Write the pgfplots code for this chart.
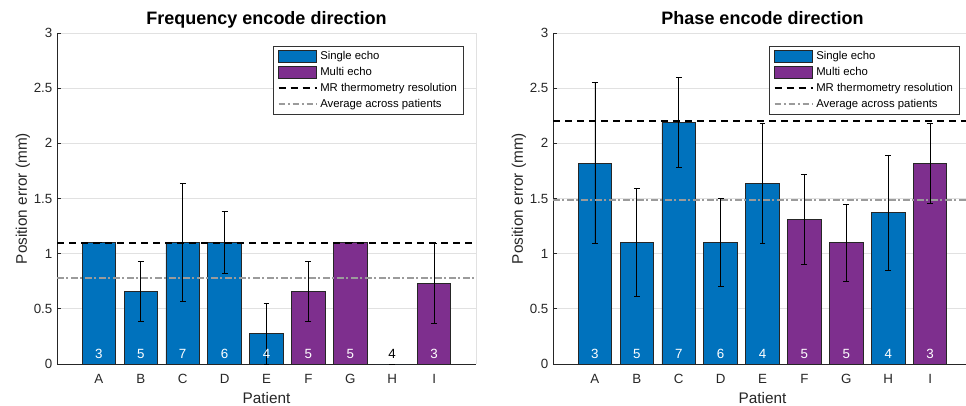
\documentclass[border=0pt]{standalone}
\usepackage{pgfplots}
\pgfplotsset{compat=1.18}
\usepackage{pgfplotstable}
\usepackage{fontspec}
\setmainfont{Liberation Sans}
\definecolor{mblue}{RGB}{0,114,189}
\definecolor{mpurple}{RGB}{126,47,142}
\definecolor{mgrid}{RGB}{225,225,225}
\definecolor{mavg}{RGB}{155,155,155}

% Frequency encode direction
\pgfplotstableread{
x y e
1 1.10 0.00
2 0.66 0.27
3 1.10 0.535
4 1.10 0.28
5 0.275 0.275
8 0.00 0.00
}\freqsingle
\pgfplotstableread{
x y e
6 0.66 0.27
7 1.10 0.00
9 0.73 0.365
}\freqmulti
\pgfplotstableread{
x y n
1 0.09 3
2 0.09 5
3 0.09 7
4 0.09 6
5 0.09 4
6 0.09 5
7 0.09 5
9 0.09 3
}\freqcountw
\pgfplotstableread{
x y n
8 0.09 4
}\freqcountb

% Phase encode direction
\pgfplotstableread{
x y e
1 1.82 0.73
2 1.10 0.49
3 2.19 0.41
4 1.10 0.40
5 1.64 0.545
8 1.37 0.525
}\phasesingle
\pgfplotstableread{
x y e
6 1.31 0.41
7 1.10 0.35
9 1.82 0.365
}\phasemulti
\pgfplotstableread{
x y n
1 0.09 3
2 0.09 5
3 0.09 7
4 0.09 6
5 0.09 4
6 0.09 5
7 0.09 5
8 0.09 4
9 0.09 3
}\phasecount

\pgfplotsset{
  myaxis/.style={
    scale only axis, width=314.25pt, height=248.25pt,
    xmin=0, xmax=10, ymin=0, ymax=3,
    xtick={1,...,9}, xticklabels={A,B,C,D,E,F,G,H,I},
    ytick={0,0.5,1,1.5,2,2.5,3},
    yticklabels={0,0.5,1,1.5,2,2.5,3},
    axis lines*=left,
    axis line style={black!85, line width=0.6pt},
    ymajorgrids, grid style={mgrid, line width=0.6pt},
    xtick style={draw=none},
    ytick style={black!85, line width=0.6pt},
    major tick length=3pt, tick align=inside,
    tick label style={font=\fontsize{10}{12}\selectfont, text=black!85},
    xticklabel style={yshift=-4pt},
    /pgf/number format/assume math mode=true,
    xlabel={Patient}, ylabel={Position error (mm)},
    label style={font=\fontsize{11.5}{13}\selectfont, text=black!85},
    xlabel style={yshift=0.5pt},
    ylabel style={yshift=-4pt},
    title style={font=\fontsize{13.5}{15}\selectfont\bfseries, text depth=3pt, yshift=-6pt},
    legend style={at={(1,1)}, anchor=north east, xshift=-9pt, yshift=-9.75pt,
      font=\fontsize{8.5}{10}\selectfont, draw=black!80, line width=0.6pt,
      inner xsep=3pt, inner ysep=2pt, row sep=0.2pt,
      /tikz/every even column/.append style={column sep=2pt}},
    legend cell align=left,
    clip=false,
  },
  barsingle/.style={
    legend image code/.code={\draw[fill=mblue, draw=black!85, line width=0.6pt] (0pt,-4.5pt) rectangle (28.5pt,4.5pt);},
    ybar, bar width=0.8, bar shift=0pt, fill=mblue, draw=black!85, line width=0.6pt,
    error bars/.cd, y dir=both, y explicit,
    error bar style={black, line width=0.5pt},
    error mark options={rotate=90, black, mark size=2.2pt, line width=0.6pt}},
  barmulti/.style={
    legend image code/.code={\draw[fill=mpurple, draw=black!85, line width=0.6pt] (0pt,-4.5pt) rectangle (28.5pt,4.5pt);},
    ybar, bar width=0.8, bar shift=0pt, fill=mpurple, draw=black!85, line width=0.6pt,
    error bars/.cd, y dir=both, y explicit,
    error bar style={black, line width=0.5pt},
    error mark options={rotate=90, black, mark size=2.2pt, line width=0.6pt}},
  resline/.style={black, line width=1.5pt, dash pattern=on 5.5pt off 3.5pt,
    legend image code/.code={\draw[black, line width=1.5pt, dash pattern=on 5.5pt off 3.5pt] (0pt,0pt) -- (28.5pt,0pt);}},
  avgline/.style={mavg, line width=1.6pt, dash pattern=on 5pt off 2pt on 1.5pt off 2pt,
    legend image code/.code={\draw[mavg, line width=1.6pt, dash pattern=on 5pt off 2pt on 1.5pt off 2pt] (0pt,0pt) -- (28.5pt,0pt);}},
  countlab/.style={draw=none, mark=none, forget plot, nodes near coords, point meta=explicit symbolic,
    nodes near coords style={anchor=center, font=\fontsize{10}{12}\selectfont, text=#1}},
}

\begin{document}
\begin{tikzpicture}
\useasboundingbox (0,0) rectangle (724.5pt,303.75pt);
\clip (0,0) rectangle (724.5pt,303.75pt);

\begin{axis}[myaxis, at={(42.75pt,30.75pt)}, anchor=south west,
  title={Frequency encode direction}]
\addplot[barsingle] table[x=x, y=y, y error=e] {\freqsingle};
\addlegendentry{Single echo}
\addplot[barmulti] table[x=x, y=y, y error=e] {\freqmulti};
\addlegendentry{Multi echo}
\addplot[resline] coordinates {(0,1.1) (10,1.1)};
\addlegendentry{MR thermometry resolution}
\addplot[avgline] coordinates {(0,0.782) (10,0.782)};
\addlegendentry{Average across patients}
\addplot[countlab=white] table[x=x, y=y, meta=n] {\freqcountw};
\addplot[countlab=black] table[x=x, y=y, meta=n] {\freqcountb};
\draw[mgrid, line width=0.6pt] (rel axis cs:1,0) -- (rel axis cs:1,1);
\end{axis}

\begin{axis}[myaxis, at={(414.75pt,30.75pt)}, anchor=south west,
  title={Phase encode direction}]
\addplot[barsingle] table[x=x, y=y, y error=e] {\phasesingle};
\addlegendentry{Single echo}
\addplot[barmulti] table[x=x, y=y, y error=e] {\phasemulti};
\addlegendentry{Multi echo}
\addplot[resline] coordinates {(0,2.2) (10,2.2)};
\addlegendentry{MR thermometry resolution}
\addplot[avgline] coordinates {(0,1.486) (10,1.486)};
\addlegendentry{Average across patients}
\addplot[countlab=white] table[x=x, y=y, meta=n] {\phasecount};
\end{axis}
\end{tikzpicture}
\end{document}
